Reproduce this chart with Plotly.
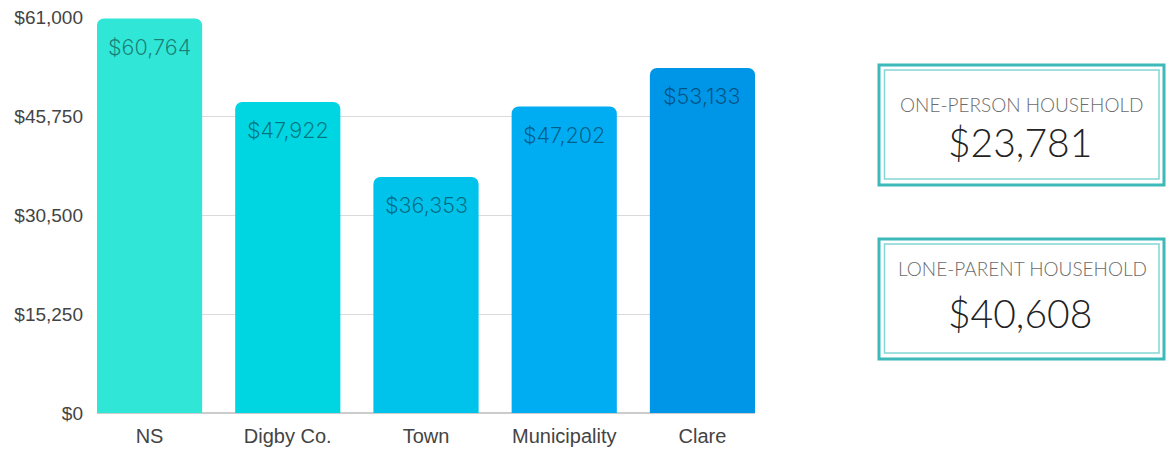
import plotly.graph_objects as go

categories = ["NS", "Digby Co.", "Town", "Municipality", "Clare"]
incomes = [60764, 47922, 36353, 47202, 53133]
bar_colors = ["#30E6D7", "#00D5E2", "#00C3EB", "#00ACF2", "#0096E8"]
tick_values = [0, 15250, 30500, 45750, 61000]
tick_labels = ["$0", "$15,250", "$30,500", "$45,750", "$61,000"]
box_titles = ["ONE-PERSON HOUSEHOLD", "LONE-PARENT HOUSEHOLD"]
box_values = ["$23,781", "$40,608"]

W, H = 1166, 449
ML, MR, MT, MB = 97, 1, 17, 36
plot_w = W - ML - MR
plot_h = H - MT - MB


def px(x):
    return (x - ML) / plot_w


def py(y):
    return (H - MB - y) / plot_h


fig = go.Figure()
fig.add_trace(go.Bar(
    x=categories, y=incomes,
    marker=dict(color=bar_colors, cornerradius=7, line=dict(width=0)),
    hoverinfo="skip",
))

for c, v in zip(categories, incomes):
    fig.add_annotation(
        x=c, y=v, xref="x", yref="y", yshift=-28, yanchor="middle", xanchor="center",
        text=f"${v:,}", showarrow=False,
        font=dict(family="Inter", size=21.5, color="rgba(0,0,0,0.45)", weight=300),
    )

# info boxes: (outer top, outer bottom, title y, value y) in pixels
boxes = [(65, 185, 104, 142), (239, 359, 268, 313)]
for (top, bot, ty, vy), title, val in zip(boxes, box_titles, box_values):
    fig.add_shape(type="rect", xref="paper", yref="paper",
                  x0=px(879), x1=px(1164), y0=py(bot), y1=py(top),
                  line=dict(color="#3DB9B9", width=3), fillcolor="white", layer="above")
    fig.add_shape(type="rect", xref="paper", yref="paper",
                  x0=px(884.5), x1=px(1159), y0=py(bot - 6), y1=py(top + 5),
                  line=dict(color="#84D6D6", width=1.5), layer="above")
    fig.add_annotation(xref="paper", yref="paper", x=px(1022), y=py(ty),
                       text=title, showarrow=False, yanchor="middle", xanchor="center",
                       font=dict(family="Lato", size=19, color="#6b6b6b", weight=300))
    fig.add_annotation(xref="paper", yref="paper", x=px(1020), y=py(vy),
                       text=val, showarrow=False, yanchor="middle", xanchor="center",
                       font=dict(family="Lato", size=39, color="#222222", weight=300))

fig.update_layout(
    width=W, height=H,
    margin=dict(l=ML, r=MR, t=MT, b=MB, autoexpand=False),
    paper_bgcolor="white", plot_bgcolor="white",
    showlegend=False, bargap=0.239,
    font=dict(family="Liberation Sans, Arial", size=18, color="#444444"),
    xaxis=dict(domain=[0, (755 - ML) / plot_w], range=[-0.38, 4.38],
               showgrid=False, showline=False,
               ticks="", tickfont=dict(size=20, color="#444444"), ticklabelstandoff=9),
    yaxis=dict(range=[0, 61000], tickvals=tick_values, ticktext=tick_labels,
               showgrid=True, gridcolor="#dadada", gridwidth=1,
               zeroline=True, zerolinecolor="#cccccc", zerolinewidth=2,
               showline=False, ticks="", ticklabelstandoff=13,
               tickfont=dict(size=19, color="#444444")),
)

fig.write_html("out.html", config={"displayModeBar": False},
               post_script="document.body.style.margin='0';")
